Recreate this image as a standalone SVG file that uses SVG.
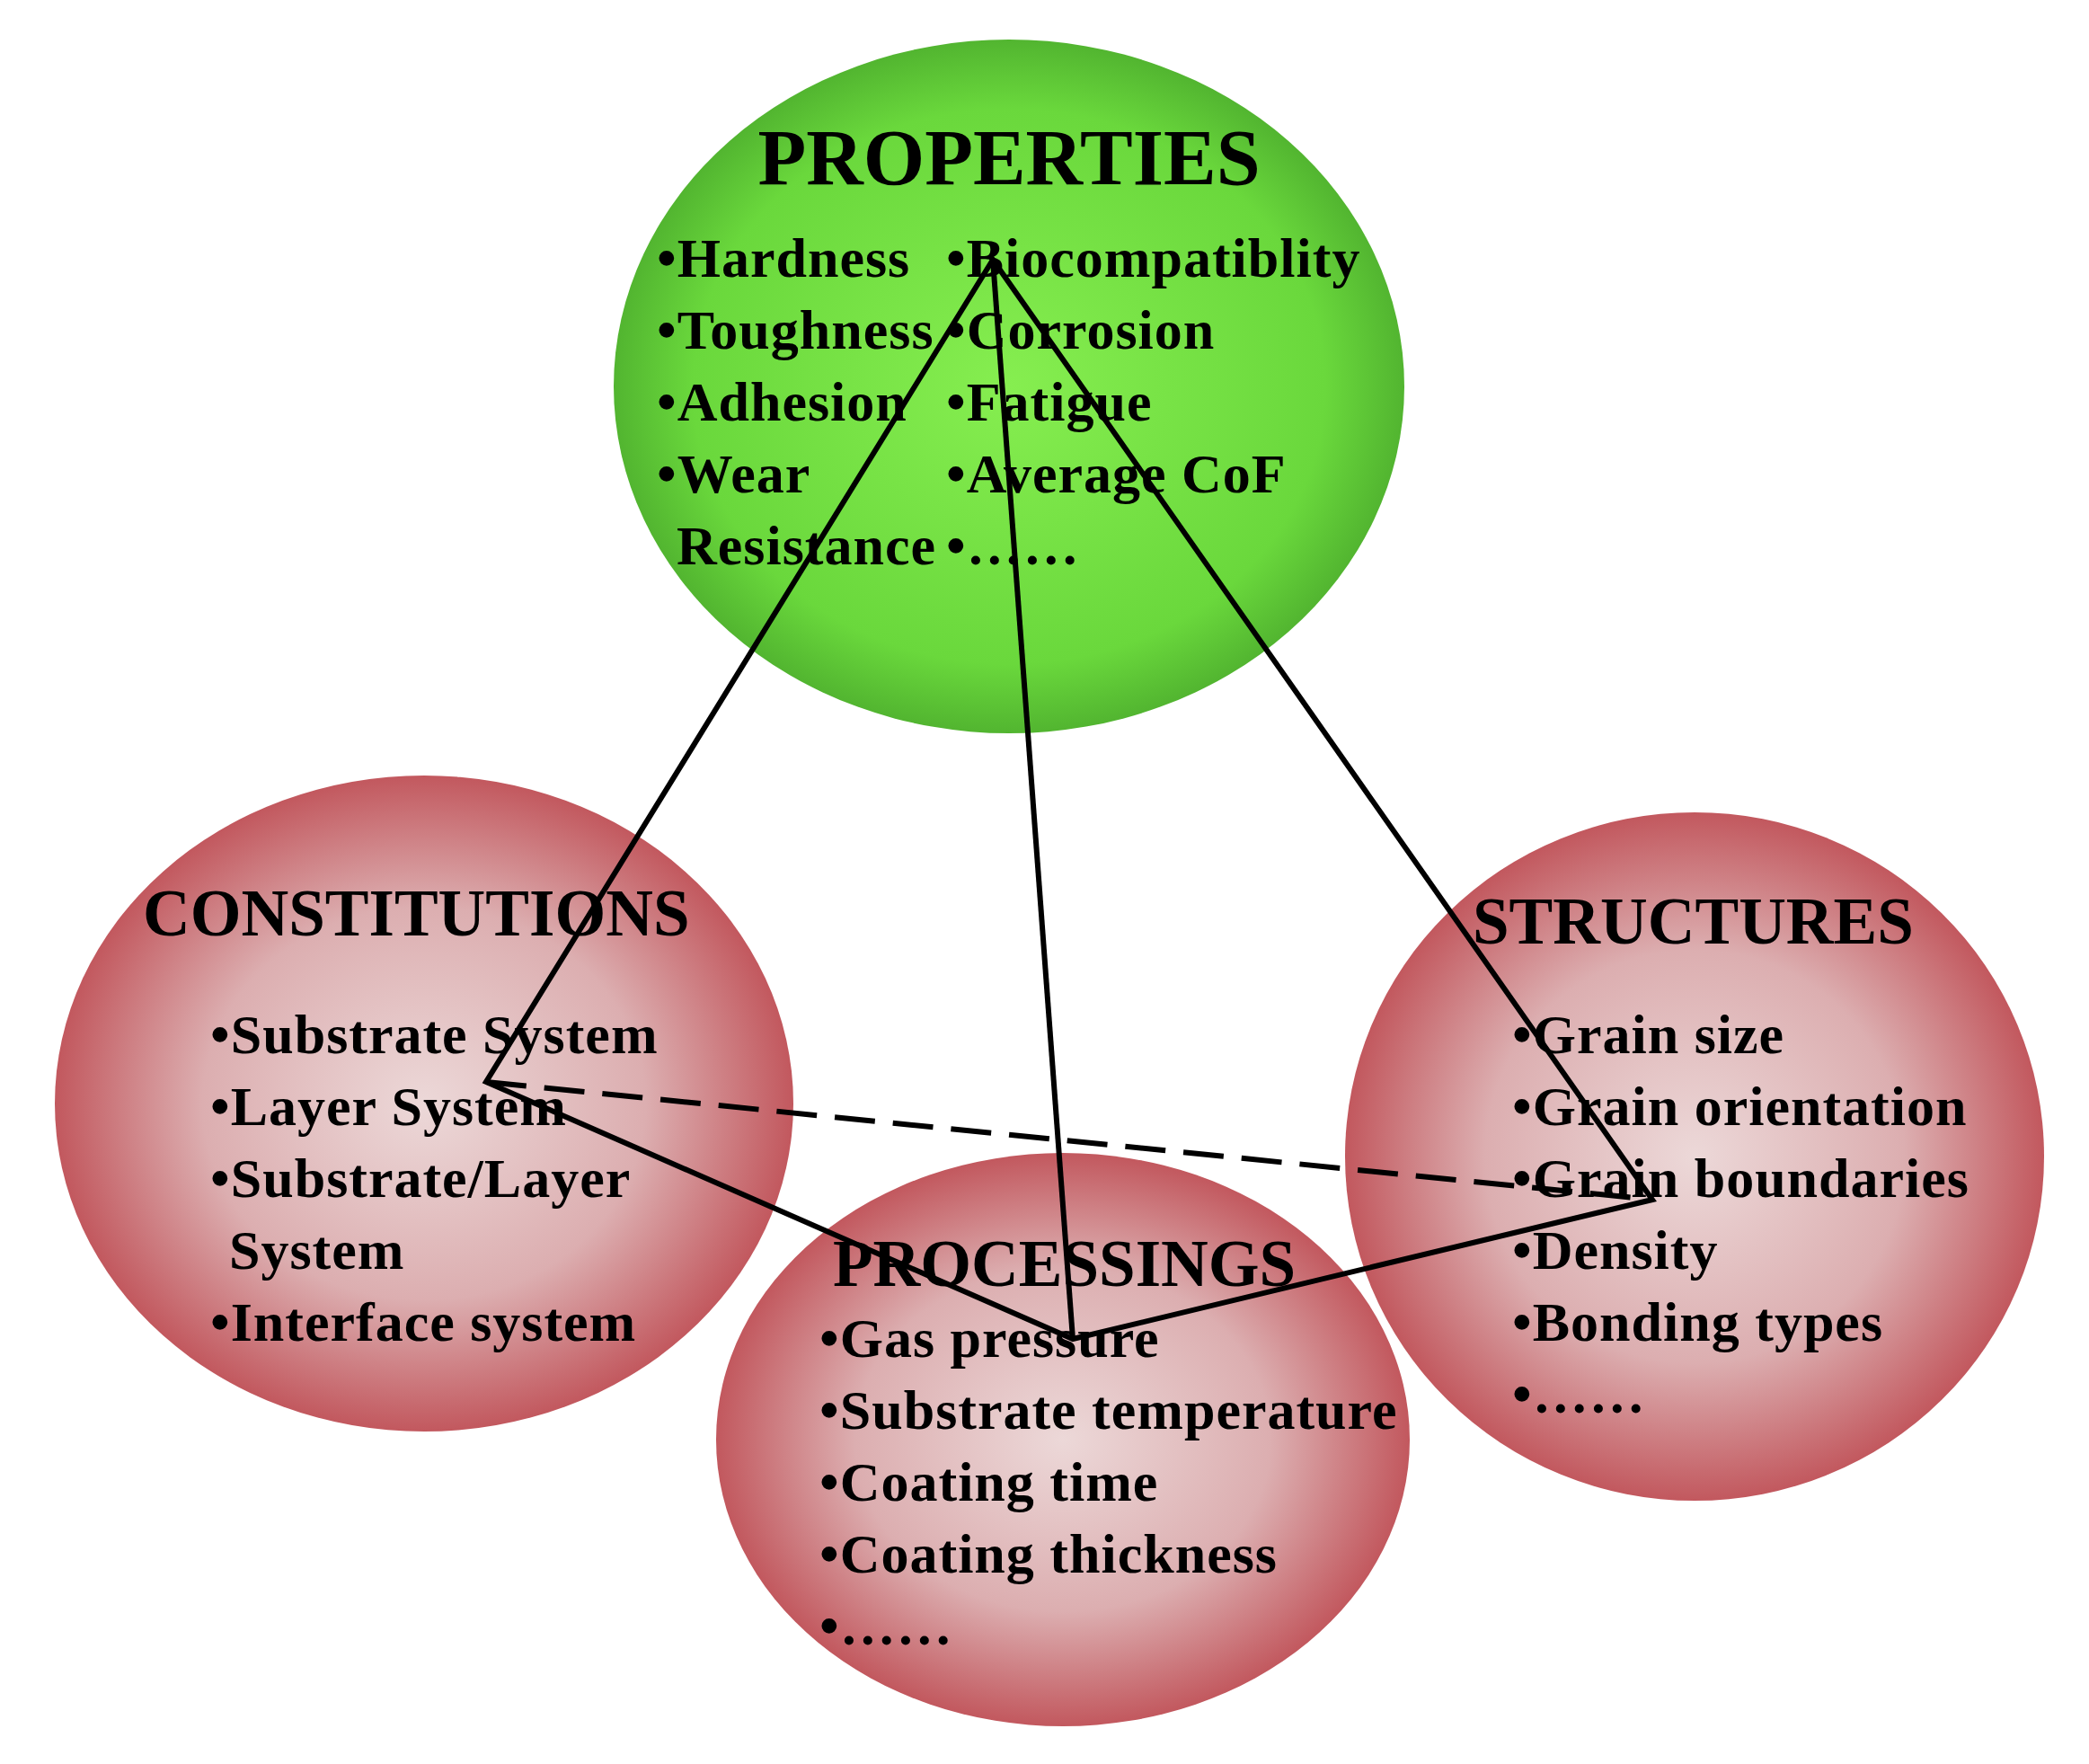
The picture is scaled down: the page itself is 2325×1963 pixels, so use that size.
<svg xmlns="http://www.w3.org/2000/svg" width="2325" height="1963" viewBox="0 0 2325 1963">
<defs>
<radialGradient id="g"><stop offset="0" stop-color="#86ee50"/><stop offset="0.8" stop-color="#6ad83c"/><stop offset="1" stop-color="#52b530"/></radialGradient>
<radialGradient id="r"><stop offset="0" stop-color="#ecd8d8"/><stop offset="0.6" stop-color="#dcaeb0"/><stop offset="1" stop-color="#c2585e"/></radialGradient>
<style>
text{font-family:"Liberation Serif",serif;font-weight:bold;fill:#000}
.t{font-size:88px}.h{font-size:73px}.i{font-size:62px;letter-spacing:1px}
.l{stroke:#000;stroke-width:6;fill:none}
</style>
</defs>
<rect width="2325" height="1963" fill="#fff"/>
<g id="properties">
<ellipse cx="1123" cy="430" rx="440" ry="386" fill="url(#g)"/>
<text class="t" x="1123" y="205" text-anchor="middle">PROPERTIES</text>
<text class="i" x="731" y="308">•Hardness</text><text class="i" x="1053" y="308">•Biocompatiblity</text>
<text class="i" x="731" y="388">•Toughness</text><text class="i" x="1053" y="388">•Corrosion</text>
<text class="i" x="731" y="468">•Adhesion</text><text class="i" x="1053" y="468">•Fatigue</text>
<text class="i" x="731" y="548">•Wear</text><text class="i" x="1053" y="548">•Average CoF</text>
<text class="i" x="753" y="628">Resistance</text><text class="i" x="1053" y="628">•……</text>
</g>
<g id="constitutions">
<ellipse cx="472" cy="1228" rx="411" ry="365" fill="url(#r)"/>
<text class="h" x="159" y="1041">CONSTITUTIONS</text>
<text class="i" x="234" y="1172">•Substrate System</text>
<text class="i" x="234" y="1252">•Layer System</text>
<text class="i" x="234" y="1332">•Substrate/Layer</text>
<text class="i" x="255" y="1412">System</text>
<text class="i" x="234" y="1492">•Interface system</text>
</g>
<g id="structures">
<ellipse cx="1886" cy="1287" rx="389" ry="383" fill="url(#r)"/>
<text class="h" x="1639" y="1050">STRUCTURES</text>
<text class="i" x="1683" y="1172">•Grain size</text>
<text class="i" x="1683" y="1252">•Grain orientation</text>
<text class="i" x="1683" y="1332">•Grain boundaries</text>
<text class="i" x="1683" y="1412">•Density</text>
<text class="i" x="1683" y="1492">•Bonding types</text>
<text class="i" x="1683" y="1572">•……</text>
</g>
<g id="processings">
<ellipse cx="1183" cy="1602" rx="386" ry="319" fill="url(#r)"/>
<text class="h" x="927" y="1431">PROCESSINGS</text>
<text class="i" x="912" y="1510">•Gas pressure</text>
<text class="i" x="912" y="1590">•Substrate temperature</text>
<text class="i" x="912" y="1670">•Coating time</text>
<text class="i" x="912" y="1750">•Coating thickness</text>
<text class="i" x="912" y="1830">•……</text>
</g>
<g id="connectors">
<path class="l" d="M1105 289 L541 1204 L1194 1490 L1839 1335 Z"/>
<path class="l" d="M1105 289 L1194 1490"/>
<path class="l" d="M541 1204 L1839 1335" stroke-dasharray="45 20"/>
</g>
</svg>
